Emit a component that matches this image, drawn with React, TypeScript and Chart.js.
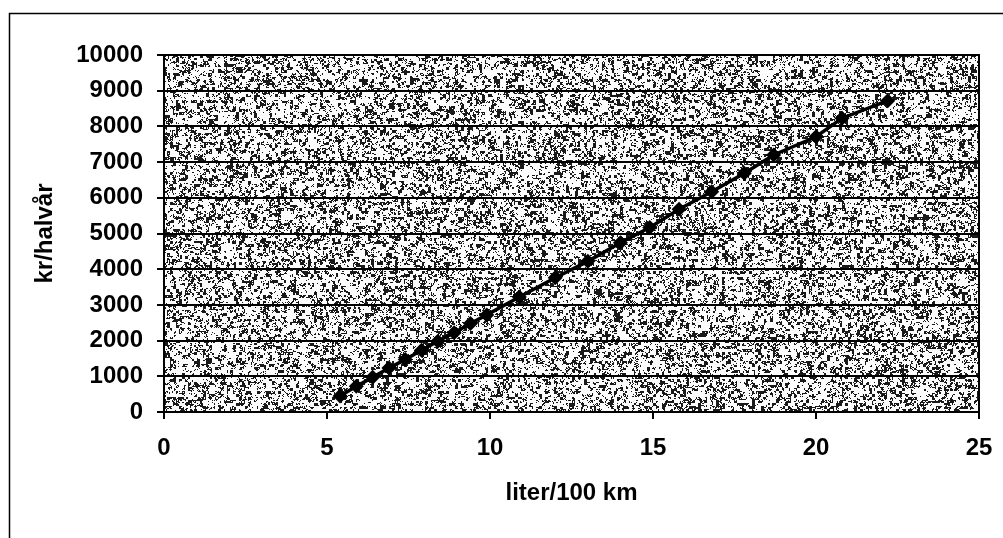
import React, { useEffect, useRef } from "react";
import { Chart, registerables } from "chart.js";

Chart.register(...registerables);

const litresPer100km = [5.4, 5.9, 6.4, 6.9, 7.4, 7.9, 8.4, 8.9, 9.4, 9.9, 10.9, 12.0, 13.0, 14.0, 14.9, 15.8, 16.8, 17.8, 18.7, 20.0, 20.8, 22.2];
const krPerHalfYear = [450, 720, 970, 1230, 1470, 1730, 1980, 2220, 2480, 2720, 3220, 3760, 4220, 4740, 5170, 5680, 6170, 6690, 7200, 7710, 8230, 8720];
const xTitle = "liter/100 km";
const yTitle = "kr/halvår";

function hash(x: number, y: number, s: number): number {
  let h = (x * 374761393 + y * 668265263 + s * 982451653) | 0;
  h = Math.imul(h ^ (h >>> 13), 1274126177);
  h = h ^ (h >>> 16);
  return (h >>> 0) / 4294967296;
}

function makeTexture(w: number, h: number): HTMLCanvasElement {
  const c = document.createElement("canvas");
  c.width = w;
  c.height = h;
  const g = c.getContext("2d")!;
  const img = g.createImageData(w, h);
  for (let y = 0; y < h; y++) {
    for (let x = 0; x < w; x++) {
      const v =
        0.45 * hash((x / 3) | 0, (y / 3) | 0, 11) +
        0.3 * hash(x >> 1, y >> 1, 7) +
        0.25 * hash(x, y, 3);
      const dark = v < 0.42;
      const i = (y * w + x) * 4;
      const col = dark ? 25 : 252;
      img.data[i] = col;
      img.data[i + 1] = col;
      img.data[i + 2] = col;
      img.data[i + 3] = 255;
    }
  }
  g.putImageData(img, 0, 0);
  return c;
}

const bgPlugin = {
  id: "bgTexture",
  beforeDraw(chart: any) {
    const { ctx, chartArea } = chart;
    const w = Math.round(chartArea.right - chartArea.left);
    const h = Math.round(chartArea.bottom - chartArea.top);
    const tex = makeTexture(w, h);
    ctx.save();
    ctx.fillStyle = "#ffffff";
    ctx.fillRect(0, 0, chart.width, chart.height);
    ctx.drawImage(tex, chartArea.left, chartArea.top);
    ctx.strokeStyle = "#000";
    ctx.lineWidth = 1.5;
    ctx.beginPath();
    ctx.moveTo(9.5, chart.height);
    ctx.lineTo(9.5, 13.5);
    ctx.lineTo(chart.width, 13.5);
    ctx.stroke();
    ctx.restore();
  },
  beforeDatasetsDraw(chart: any) {
    const { ctx, chartArea } = chart;
    ctx.save();
    ctx.strokeStyle = "#000";
    ctx.lineWidth = 2;
    ctx.strokeRect(chartArea.left, chartArea.top, chartArea.right - chartArea.left, chartArea.bottom - chartArea.top);
    ctx.restore();
  },
};

export default function App() {
  const ref = useRef<HTMLCanvasElement | null>(null);
  useEffect(() => {
    if (!ref.current) return;
    Chart.defaults.font.family = "'Liberation Sans', Arial, sans-serif";
    Chart.defaults.color = "#000";
    const points = litresPer100km.map((x, i) => ({ x, y: krPerHalfYear[i] }));
    const tickFont = { size: 24, weight: "bold" as const };
    const chart = new Chart(ref.current, {
      type: "line",
      data: {
        datasets: [
          {
            data: points,
            borderColor: "#000",
            backgroundColor: "#000",
            borderWidth: 3.5,
            tension: 0,
            pointStyle: "rectRot",
            pointRadius: 7.5,
            pointBorderWidth: 0,
            pointBackgroundColor: "#000",
          },
        ],
      },
      options: {
        animation: false,
        responsive: false,
        devicePixelRatio: 1,
        layout: { padding: { left: 0, top: 55, right: 24, bottom: 0 } },
        plugins: { legend: { display: false }, tooltip: { enabled: false } },
        scales: {
          x: {
            type: "linear",
            min: 0,
            max: 25,
            afterFit: (s: any) => {
              s.height = 126;
              s.paddingRight = 0;
              s.paddingLeft = 0;
            },
            ticks: { stepSize: 5, padding: 15, font: tickFont, color: "#000", callback: (v: any) => String(v) },
            grid: { drawOnChartArea: false, drawTicks: true, tickLength: 7, color: "#000", lineWidth: 2 },
            border: { display: true, color: "#000", width: 2 },
            title: { display: true, text: xTitle, font: tickFont, color: "#000", padding: { top: 0, bottom: 30 } },
          },
          y: {
            type: "linear",
            min: 0,
            max: 10000,
            afterFit: (s: any) => {
              s.width = 164;
              s.paddingTop = 0;
              s.paddingBottom = 0;
            },
            ticks: { stepSize: 1000, padding: 14, font: tickFont, color: "#000", callback: (v: any) => String(v) },
            grid: { color: "#000", lineWidth: 2, tickLength: 7 },
            border: { display: true, color: "#000", width: 2 },
            title: { display: true, text: yTitle, font: tickFont, color: "#000", padding: { top: 31, bottom: 0 } },
          },
        },
      },
      plugins: [bgPlugin],
    });
    return () => chart.destroy();
  }, []);
  return (
    <div style={{ position: "absolute", left: 0, top: 0, width: 1003, height: 538 }}>
      <canvas ref={ref} width={1003} height={538} style={{ display: "block" }} />
    </div>
  );
}
